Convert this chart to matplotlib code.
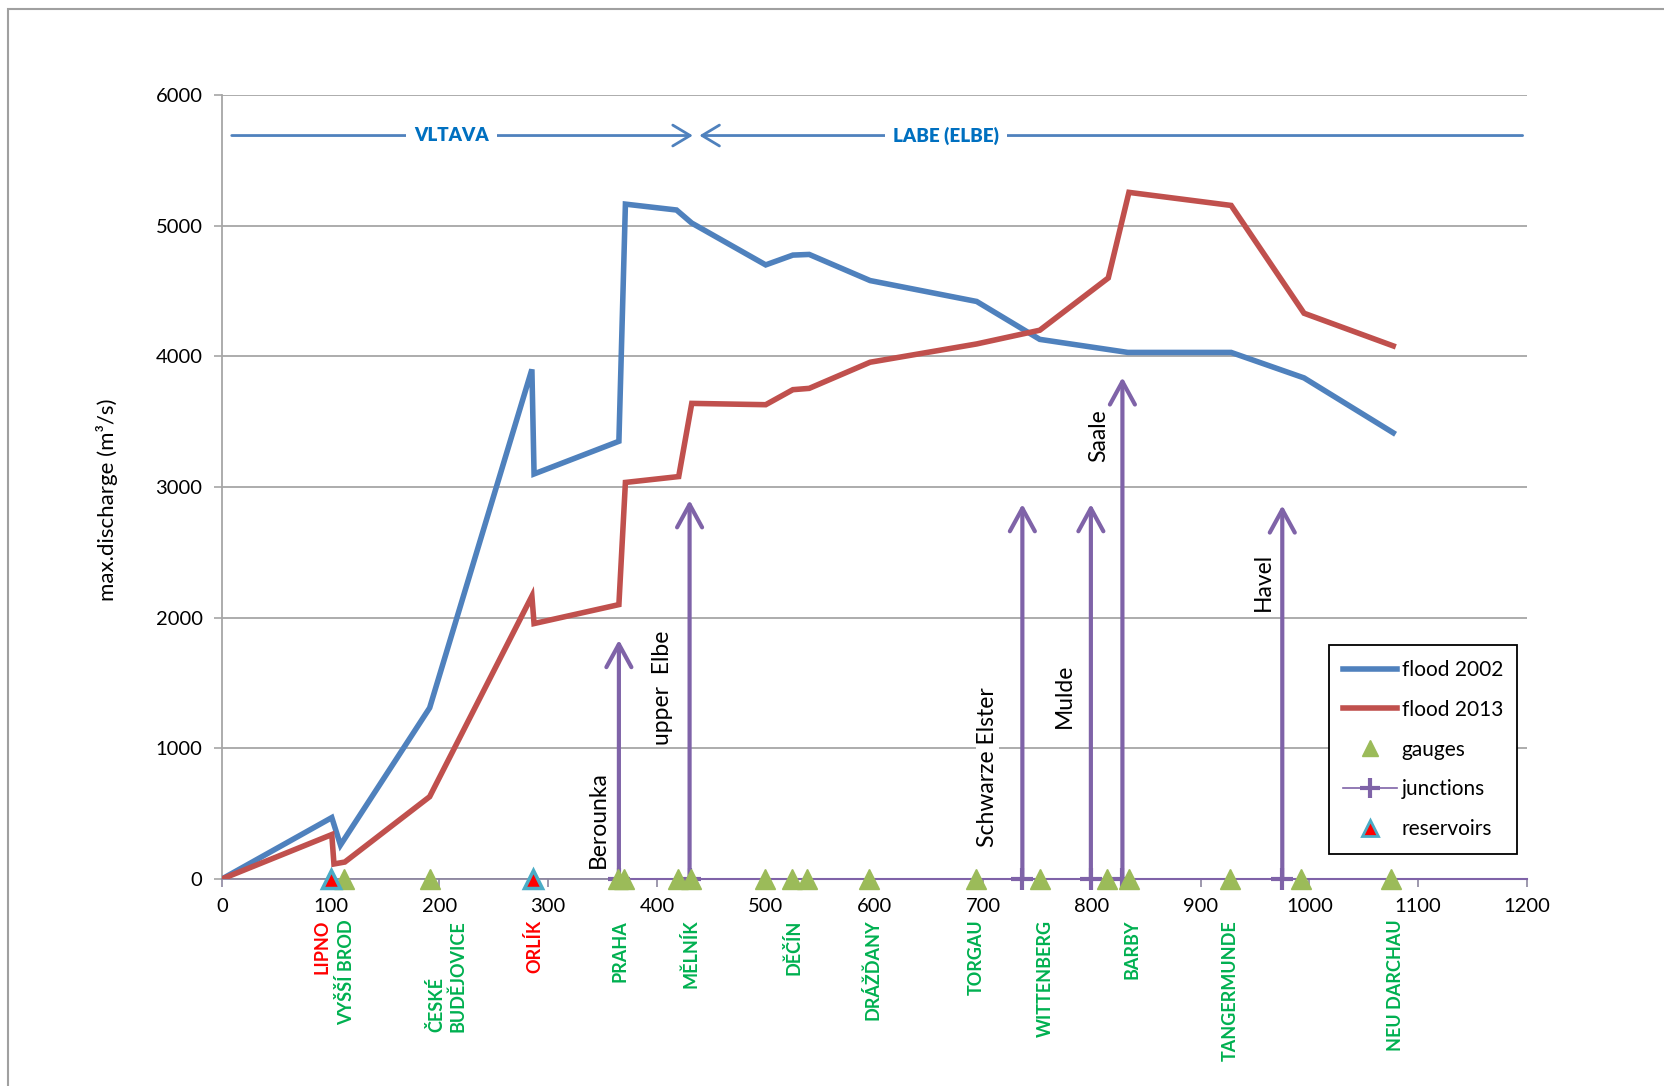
import matplotlib
matplotlib.use('Agg')
import matplotlib.pyplot as plt
from matplotlib.lines import Line2D
from matplotlib.patches import Rectangle

plt.rcParams['font.family'] = ['Lato', 'DejaVu Sans']

# river km vs. max discharge
km_2002 = [0, 101, 109, 191, 285, 287, 365, 371, 418, 432, 500, 525, 540, 596, 694, 752, 833, 928, 995, 1077]
q_2002 = [0, 470, 260, 1310, 3900, 3100, 3350, 5165, 5120, 5020, 4700, 4775, 4780, 4580, 4420, 4130, 4030, 4030, 3835, 3415]
km_2013 = [0, 101, 103, 113, 191, 285, 287, 365, 371, 420, 432, 500, 525, 540, 596, 694, 752, 815, 834, 928, 995, 1077]
q_2013 = [0, 340, 115, 130, 630, 2165, 1955, 2100, 3035, 3080, 3640, 3630, 3745, 3755, 3955, 4095, 4200, 4600, 5255, 5155, 4330, 4080]

gauges_km = [112, 191, 364, 370, 419, 431, 499, 524, 538, 595, 693, 752, 814, 834, 927, 992, 1075]
reservoirs_km = [100, 286]

junctions_km = [365, 430, 736, 799, 828, 975]
junctions_top = [1830, 2900, 2870, 2870, 3840, 2860]
junction_names = ['Berounka', 'upper  Elbe', 'Schwarze Elster', 'Mulde', 'Saale', 'Havel']
junction_label_x = [346, 405, 704, 775, 806, 958]
junction_label_y = [455, 1460, 855, 1400, 3395, 2275]

places = ['LIPNO', 'VYŠŠÍ BROD', 'ČESKÉ\nBUDĚJOVICE', 'ORLÍK', 'PRAHA', 'MĚLNÍK', 'DĚČÍN',
          'DRÁŽĎANY', 'TORGAU', 'WITTENBERG', 'BARBY', 'TANGERMUNDE', 'NEU DARCHAU']
places_km = [92, 114, 207, 287, 366, 431, 526, 598, 694, 757, 837, 927, 1079]
places_is_reservoir = [True, False, False, True, False, False, False, False, False, False, False, False, False]

blue = '#4f81bd'
red = '#c0504d'
green = '#9bbb59'
purple = '#7f63a8'
grid_grey = '#a6a6a6'

fig = plt.figure(figsize=(16.65, 10.86), dpi=100)
ax = fig.add_axes([0.1333, 0.1906, 0.7838, 0.7219])

# outer chart frame
fig.patches.append(Rectangle((0.0048, -0.05), 1.1, 0.05 + 0.9917, transform=fig.transFigure,
                             fill=False, edgecolor='#a0a0a0', lw=1.5))

ax.set_xlim(0, 1200)
ax.set_ylim(0, 6000)
ax.set_xticks(range(0, 1201, 100))
ax.set_yticks(range(0, 6001, 1000))
ax.yaxis.grid(True, color=grid_grey, lw=1.3)
ax.set_axisbelow(True)
for s in ['top', 'right']:
    ax.spines[s].set_visible(False)
ax.spines['left'].set_color(grid_grey)
ax.spines['bottom'].set_color('#8c86a0')
ax.spines['left'].set_linewidth(1.3)
ax.spines['bottom'].set_linewidth(1.3)
ax.tick_params(axis='both', labelsize=14.5, colors='black', length=6, width=1.2)
ax.tick_params(axis='y', color=grid_grey, pad=8)
ax.tick_params(axis='x', color='#8c86a0', pad=8)

fig.text(0.064, 0.54, 'max.discharge (m³/s)', rotation=90, ha='center', va='center', fontsize=16)

# junction arrows
for x, top in zip(junctions_km, junctions_top):
    ax.annotate('', xy=(x, top), xytext=(x, 0),
                arrowprops=dict(arrowstyle='->,head_length=0.55,head_width=0.3',
                                color=purple, lw=3, mutation_scale=30, shrinkA=0, shrinkB=0))
for name, x, y in zip(junction_names, junction_label_x, junction_label_y):
    ax.text(x, y, name, rotation=90, ha='center', va='center', fontsize=16.5,
            bbox=dict(facecolor='white', edgecolor='none', pad=1))

l1, = ax.plot(km_2002, q_2002, color=blue, lw=4, solid_joinstyle='miter', zorder=4)
l2, = ax.plot(km_2013, q_2013, color=red, lw=4, solid_joinstyle='miter', zorder=4)

l4, = ax.plot(junctions_km + [1200], [0] * (len(junctions_km) + 1), color=purple, lw=1.5,
              marker='+', markersize=16, mew=3, markevery=list(range(len(junctions_km))), zorder=5,
              clip_on=False)
l3, = ax.plot(gauges_km, [0] * len(gauges_km), linestyle='none', marker='^', markersize=15,
              color=green, zorder=6, clip_on=False)
l5, = ax.plot(reservoirs_km, [0] * len(reservoirs_km), linestyle='none', marker='^', markersize=13,
              markerfacecolor='#ff0000', markeredgecolor='#4bacc6', mew=2.5, zorder=7, clip_on=False)

# river section labels
ax.annotate('', xy=(433, 5690), xytext=(9, 5690),
            arrowprops=dict(arrowstyle='->,head_length=0.5,head_width=0.3', color=blue, lw=2,
                            mutation_scale=25, shrinkA=0, shrinkB=0))
ax.annotate('', xy=(439, 5690), xytext=(1196, 5690),
            arrowprops=dict(arrowstyle='->,head_length=0.5,head_width=0.3', color=blue, lw=2,
                            mutation_scale=25, shrinkA=0, shrinkB=0))
ax.text(211, 5690, 'VLTAVA', ha='center', va='center', fontsize=13.5, fontweight='heavy', color='#0070c0',
        bbox=dict(facecolor='white', edgecolor='none', pad=6))
ax.text(666, 5690, 'LABE (ELBE)', ha='center', va='center', fontsize=13.5, fontweight='heavy', color='#0070c0',
        bbox=dict(facecolor='white', edgecolor='none', pad=6))

# place names under the axis
for name, x, res in zip(places, places_km, places_is_reservoir):
    ax.text(x, -0.052, name, transform=ax.get_xaxis_transform(), rotation=90, ha='center', va='top',
            multialignment='left', fontsize=13, fontweight='bold',
            color='#ff0000' if res else '#00b050')

h_junc = Line2D([], [], color=purple, lw=1.2, marker='+', markersize=14, mew=3)
h_gauge = Line2D([], [], linestyle='none', marker='^', markersize=12, color=green)
h_res = Line2D([], [], linestyle='none', marker='^', markersize=11, markerfacecolor='#ff0000',
               markeredgecolor='#4bacc6', mew=2)
leg = ax.legend([l1, l2, h_gauge, h_junc, h_res],
                ['flood 2002', 'flood 2013', 'gauges', 'junctions', 'reservoirs'],
                loc='upper left', bbox_to_anchor=(0.848, 0.298), borderaxespad=0, fontsize=15,
                frameon=True, fancybox=False, edgecolor='black', framealpha=1, labelspacing=0.95,
                handlelength=2.6, handletextpad=0.2, borderpad=0.7)
leg.get_frame().set_linewidth(1.3)

fig.savefig('out.png', dpi=100)
